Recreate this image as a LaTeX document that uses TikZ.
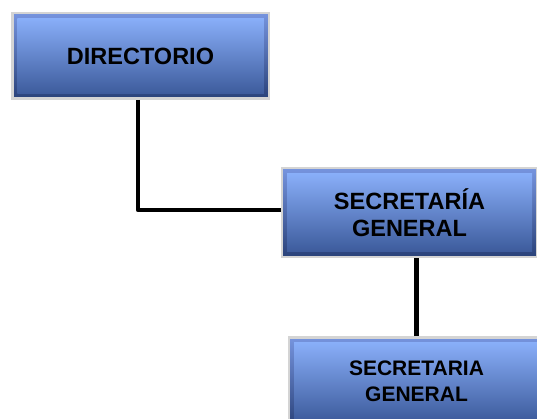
\documentclass[tikz,border=0pt]{standalone}
\usepackage{fontspec}
\setmainfont{Liberation Sans}

\definecolor{grisborde}{RGB}{212,212,212}
\definecolor{marcoarriba}{RGB}{118,148,222}
\definecolor{marcoabajo}{RGB}{42,66,122}
\definecolor{fondoarriba}{RGB}{142,180,255}
\definecolor{fondoabajo}{RGB}{56,86,150}

\tikzset{
  caja/.style={rectangle, draw=grisborde, line width=2.5pt,
    top color=marcoarriba, bottom color=marcoabajo,
    minimum width=255pt, minimum height=88.5pt, inner sep=0pt,
    align=center, font=\bfseries\fontsize{23.5}{27}\selectfont,
    path picture={\shade[top color=fondoarriba, bottom color=fondoabajo]
      ([shift={(5pt,-5pt)}]path picture bounding box.north west) rectangle
      ([shift={(-5pt,5pt)}]path picture bounding box.south east);}},
  linea/.style={line width=4.5pt, line join=round}
}

\begin{document}
\begin{tikzpicture}[x=1pt,y=-1pt]

\useasboundingbox (0,0) rectangle (537,419);

\node[caja, minimum width=256.5pt, minimum height=85.5pt] (dir) at (140.5,56) {DIRECTORIO};
\node[caja] (sg) at (409.5,212.5) {SECRETARÍA\\GENERAL};
\node[caja, font=\bfseries\fontsize{21}{26}\selectfont] (sec) at (416.5,381.5) {SECRETARIA\\GENERAL};

% conectores
\draw[linea] ([xshift=-2.5pt]dir.south) |- ([yshift=2.5pt]sg.west);
\draw[linea] (sec.north) -- (sec.north |- sg.south);

\end{tikzpicture}
\end{document}
